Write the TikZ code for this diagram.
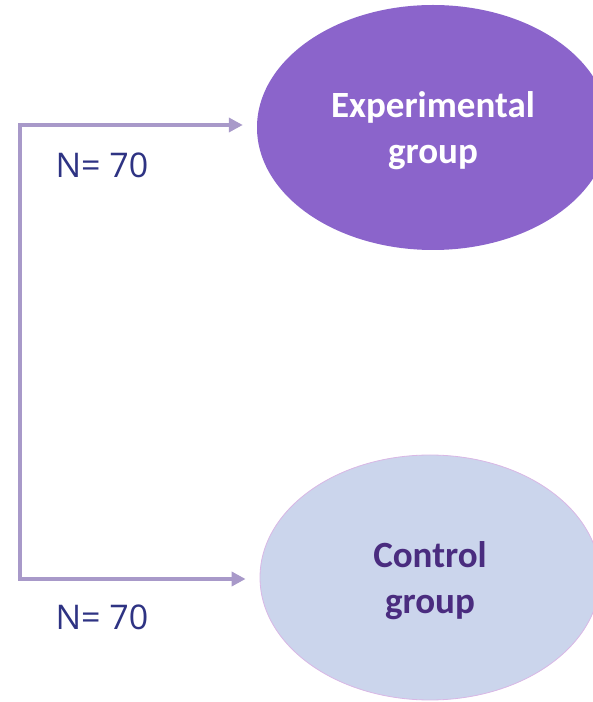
\documentclass[tikz,border=0pt]{standalone}
\usepackage{fontspec}
\setmainfont{Carlito}
\newfontfamily\labelfont{Open Sans}
\usepackage{tikz}
\usetikzlibrary{
  shapes.geometric,
  arrows.meta
}
\definecolor{experimental}{RGB}{139,100,203}
\definecolor{control}{RGB}{203,213,236}
\definecolor{controlBorder}{RGB}{217,183,229}
\definecolor{controlText}{RGB}{74,44,127}
\definecolor{countText}{RGB}{46,51,131}
\definecolor{link}{RGB}{168,153,201}
\tikzset{
  every group/.style={ellipse,inner sep=0pt,align=center,text depth=0pt,
    font=\bfseries\fontsize{37}{46}\selectfont},
  every count/.style={anchor=base west,text=countText,font=\labelfont\fontsize{34}{40}\selectfont},
}

\begin{document}
\begin{tikzpicture}[
  x=1pt,y=1pt,
  link line/.style={draw=link,line width=4pt,
    {Triangle[length=14pt,width=14pt]}-{Triangle[length=14pt,width=14pt]},
    shorten <=14pt,shorten >=14pt},
]
\useasboundingbox (0,0) rectangle (593,702);
\node[every group,fill=experimental,text=white,minimum width=352pt,minimum height=245pt]
  (expgroup) at (433,574.5) {Experimental\\group};
\node[every group,fill=control,draw=controlBorder,line width=0.8pt,text=controlText,
  minimum width=340pt,minimum height=245pt]
  (ctrlgroup) at (430,124.5) {Control\\group};
\coordinate (split top) at (20,577);
\coordinate (split bottom) at (20,123);
\draw[link line] (expgroup.west |- split top) -- (split top) -- (split bottom) -- (ctrlgroup.west |- split bottom);
\node[every count] (expcount) at (52,524) {N= 70};
\node[every count] (ctrlcount) at (52,72) {N= 70};
\end{tikzpicture}
\end{document}
